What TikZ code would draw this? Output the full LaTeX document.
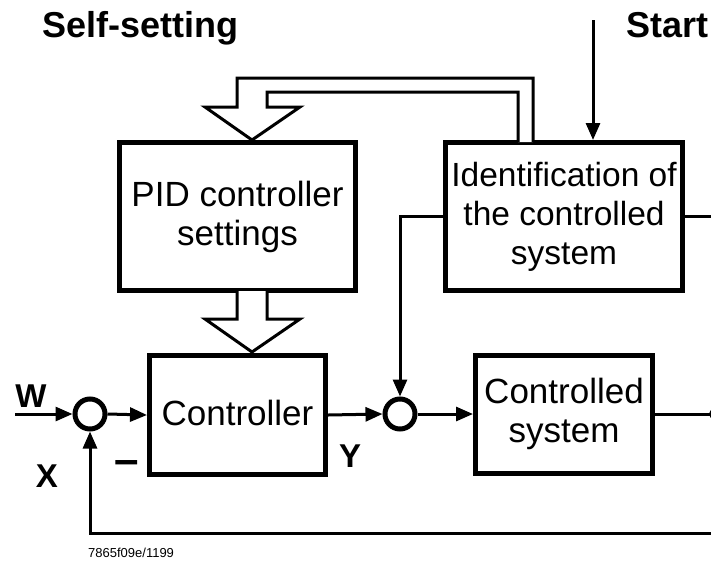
\documentclass[tikz,border=0pt]{standalone}
\usepackage{fontspec}
\setmainfont{Liberation Sans}
\usetikzlibrary{arrows.meta,calc}
\begin{document}
\begin{tikzpicture}[x=1pt,y=-1pt,
  box/.style={draw,line width=5pt,inner sep=0pt,align=center,font=\fontsize{35}{39}\selectfont},
  conn/.style={line width=3pt,-{Triangle[length=17pt,width=14pt]}},
  plain/.style={line width=3pt},
  sumnode/.style={circle,draw,line width=5pt,minimum size=30pt,inner sep=0pt},
  hollow/.style={draw,line width=3pt,fill=white,line join=miter},
  lbl/.style={font=\fontsize{33}{39}\selectfont\bfseries,inner sep=0pt},
  title/.style={font=\fontsize{36}{40}\selectfont\bfseries,inner sep=0pt}]
\useasboundingbox[fill=white] (0,0) rectangle (711,560);

% blocks
\node[box,minimum width=236pt,minimum height=148pt] (pid) at (237.5,216.5) {PID controller\\settings};
\node[box,minimum width=237pt,minimum height=148pt,font=\fontsize{33.5}{39}\selectfont] (ident) at (564,216.5) {Identification of\\the controlled\\system};
\node[box,minimum width=176pt,minimum height=119pt] (ctrl) at (237.5,415) {\raisebox{5pt}{Controller}};
\node[box,minimum width=177pt,minimum height=118pt] (plant) at (564,414) {Controlled\\system};
\node[sumnode] (s1) at (90,414) {};
\node[sumnode] (s2) at (400,414) {};

% titles and labels
\node[title,anchor=base west] (selfset) at (42,37) {Self-setting};
\node[title,anchor=base west] (start) at (626,37) {Start};
\node[lbl,anchor=base] (w) at (31,407) {W};
\node[lbl,anchor=base] (x) at (47,487) {X};
\node[lbl,anchor=base] (y) at (350,467) {Y};
\node[inner sep=0pt,anchor=base,font=\fontsize{44}{44}\selectfont\bfseries] (minus) at (127,474) {–};
\node[inner sep=0pt,anchor=base west,font=\fontsize{13}{14}\selectfont] (ref) at (88,557) {7865f09e/1199};

% free ends
\coordinate (startTop) at (593,20);
\coordinate (win) at (15,414);
\coordinate (outR) at (714,414);
\coordinate (idR) at (711,216.5);
\coordinate (fbR) at (711,533);

% connectors
\draw[conn] (startTop) -- (startTop |- ident.north);
\draw[conn] (ident.west) -| (s2.north);
\draw[plain] (ident.east) -- (idR);
\draw[conn] (win) -- (s1.west);
\draw[conn] (s1.east) -- (ctrl.west);
\draw[conn] (ctrl.east) -- (s2.west);
\draw[conn] (s2.east) -- (plant.west);
\draw[plain] (plant.east) -- (outR);
\fill (outR) circle (5pt);
\draw[conn] (fbR) -| (s1.south);

% hollow arrow: identification -> PID settings
\draw[hollow] (518,142) -- (518,92) -- (267,92) -- (267,107) -- (300,107)
  -- (252,140) -- (205,107) -- (237,107) -- (237,78) -- (533,78) -- (533,142);
% hollow arrow: PID settings -> controller
\draw[hollow] (237,291) -- (237,319) -- (205,319) -- (252,352) -- (300,319)
  -- (267,319) -- (267,291);
\end{tikzpicture}
\end{document}
